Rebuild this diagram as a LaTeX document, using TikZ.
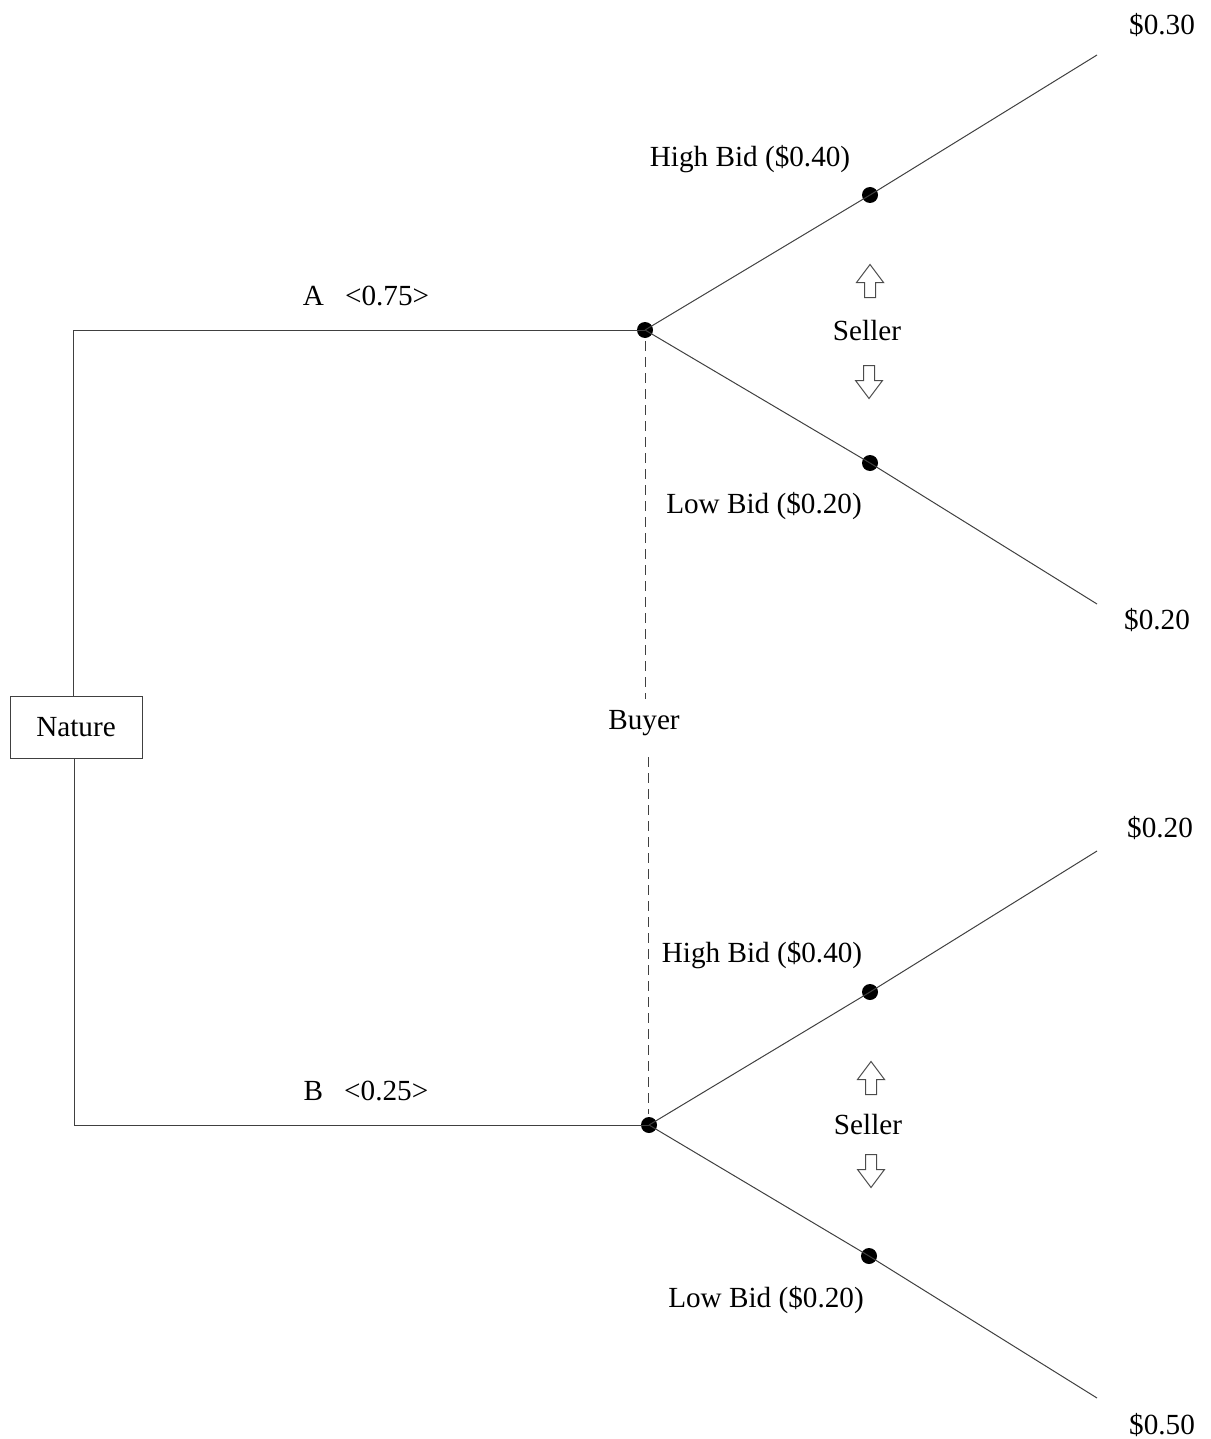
\documentclass[tikz,border=0pt]{standalone}
\usepackage{fontspec}
\setmainfont{Liberation Serif}
\begin{document}
\begin{tikzpicture}[x=0.5pt,y=-0.5pt,
  every node/.style={font=\fontsize{14.6}{17}\selectfont, inner sep=0pt},
  lbl/.style={yshift=-1.5pt},
  edge/.style={draw=black!75, line width=0.5pt},
  infoset/.style={draw=black!75, line width=0.5pt, dash pattern=on 5pt off 3pt},
  dotnode/.style={circle, fill=black, minimum size=8pt, inner sep=0pt},
  boxnode/.style={draw=black!75, line width=0.5pt, minimum width=66pt, minimum height=31pt},
  arrowsty/.style={draw=black!70, line width=0.5pt, fill=white},
  upar/.pic={\draw[arrowsty] (0,-16.5) -- (13.5,1.5) -- (5.5,1.5) -- (5.5,16.5) -- (-5.5,16.5) -- (-5.5,1.5) -- (-13.5,1.5) -- cycle;},
  downar/.pic={\draw[arrowsty] (0,16.5) -- (13.5,-1.5) -- (5.5,-1.5) -- (5.5,-16.5) -- (-5.5,-16.5) -- (-5.5,-1.5) -- (-13.5,-1.5) -- cycle;}
]
\useasboundingbox (0,0) rectangle (1210,1439);

% Nature
\node[boxnode] (nat) at (76,727) {Nature};
\coordinate (ctop) at (73,330);
\coordinate (cbot) at (74,1125);

% decision nodes
\node[dotnode] (a) at (645,330) {};
\node[dotnode] (b) at (649,1125) {};
\node[dotnode] (ah) at (870,195) {};
\node[dotnode] (al) at (870,463) {};
\node[dotnode] (bh) at (870,992) {};
\node[dotnode] (bl) at (869,1256) {};
\coordinate (ahend) at (1097,55);
\coordinate (alend) at (1097,604);
\coordinate (bhend) at (1097,851);
\coordinate (blend) at (1097,1398);

% Nature branches
\draw[edge] (nat.north -| ctop) -- (ctop) -- (a.center);
\draw[edge] (nat.south -| cbot) -- (cbot) -- (b.center);

% Buyer branches
\draw[edge] (a.center) -- (ah.center) -- (ahend);
\draw[edge] (a.center) -- (al.center) -- (alend);
\draw[edge] (b.center) -- (bh.center) -- (bhend);
\draw[edge] (b.center) -- (bl.center) -- (blend);

% information set
\node[lbl] (buyer) at (644,720) {Buyer};
\coordinate (ds1) at (645,341);
\coordinate (de1) at (645,699);
\coordinate (ds2) at (648,757);
\coordinate (de2) at (648,1114);
\draw[infoset] (ds1) -- (de1);
\draw[infoset] (ds2) -- (de2);

% labels
\node[lbl] (la) at (366,293) {A\hspace{0.72em}<0.75>};
\node[lbl] (lb) at (366,1088) {B\hspace{0.72em}<0.25>};
\node[lbl] (hb1) at (750,156) {High Bid (\$0.40)};
\node[lbl] (lb1) at (764,503) {Low Bid (\$0.20)};
\node[lbl] (hb2) at (762,952) {High Bid (\$0.40)};
\node[lbl] (lb2) at (766,1297) {Low Bid (\$0.20)};
\node[lbl] (s1) at (867,328) {Seller};
\node[lbl] (s2) at (868,1121) {Seller};

% payoffs
\node[lbl] (p1) at (1162,22) {\$0.30};
\node[lbl] (p2) at (1157,617) {\$0.20};
\node[lbl] (p3) at (1160,825) {\$0.20};
\node[lbl] (p4) at (1162,1422) {\$0.50};

% seller arrows
\pic at (870,281) {upar};
\pic at (869,382) {downar};
\pic at (871,1078) {upar};
\pic at (871,1171) {downar};
\end{tikzpicture}
\end{document}
